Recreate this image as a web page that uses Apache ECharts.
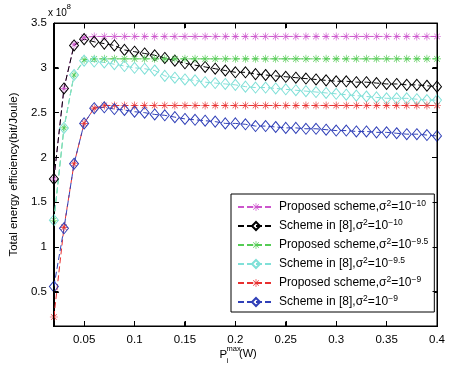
<!DOCTYPE html>
<html><head><meta charset="utf-8">
<script src="https://cdn.jsdelivr.net/npm/echarts@6/dist/echarts.min.js"></script>
<style>html,body{margin:0;padding:0;background:#fff}#wrap{position:relative;width:451px;height:368px}#c{width:451px;height:368px}#ov{position:absolute;left:0;top:0;pointer-events:none}</style>
</head><body><div id="wrap"><div id="c"></div><svg id="ov" width="451" height="368" xmlns="http://www.w3.org/2000/svg"></svg></div>
<script>
const xValues = [0.02,0.03,0.04,0.05,0.06,0.07,0.08,0.09,0.10,0.11,0.12,0.13,0.14,0.15,0.16,0.17,0.18,0.19,0.20,0.21,0.22,0.23,0.24,0.25,0.26,0.27,0.28,0.29,0.30,0.31,0.32,0.33,0.34,0.35,0.36,0.37,0.38,0.39,0.40];
const xTicks = [0.05,0.1,0.15,0.2,0.25,0.3,0.35,0.4];
const yTicks = [0.5,1,1.5,2,2.5,3,3.5];
// values in units of 1e8 bit/Joule
const proposed10 = [1.76,2.77,3.26,3.34,3.35,3.35,3.35,3.35,3.35,3.35,3.35,3.35,3.35,3.35,3.35,3.35,3.35,3.35,3.35,3.35,3.35,3.35,3.35,3.35,3.35,3.35,3.35,3.35,3.35,3.35,3.35,3.35,3.35,3.35,3.35,3.35,3.35,3.35,3.35];
const scheme8_10 = [1.76,2.77,3.25,3.32,3.29,3.27,3.25,3.20,3.18,3.16,3.14,3.11,3.08,3.05,3.03,3.01,2.99,2.97,2.95,2.95,2.93,2.92,2.91,2.90,2.89,2.88,2.87,2.86,2.85,2.85,2.84,2.84,2.83,2.82,2.82,2.81,2.81,2.80,2.79];
const proposed95 = [1.30,2.33,2.92,3.09,3.10,3.10,3.10,3.10,3.10,3.10,3.10,3.10,3.10,3.10,3.10,3.10,3.10,3.10,3.10,3.10,3.10,3.10,3.10,3.10,3.10,3.10,3.10,3.10,3.10,3.10,3.10,3.10,3.10,3.10,3.10,3.10,3.10,3.10,3.10];
const scheme8_95 = [1.30,2.33,2.92,3.08,3.07,3.06,3.04,3.02,3.00,2.99,2.97,2.91,2.89,2.87,2.86,2.84,2.83,2.82,2.81,2.79,2.78,2.78,2.77,2.76,2.75,2.74,2.73,2.72,2.71,2.70,2.69,2.68,2.67,2.66,2.66,2.66,2.65,2.64,2.64];
const proposed9 = [0.22,1.22,1.93,2.38,2.55,2.58,2.58,2.58,2.58,2.58,2.58,2.58,2.58,2.58,2.58,2.58,2.58,2.58,2.58,2.58,2.58,2.58,2.58,2.58,2.58,2.58,2.58,2.58,2.58,2.58,2.58,2.58,2.58,2.58,2.58,2.58,2.58,2.58,2.58];
const scheme8_9 = [0.56,1.21,1.93,2.38,2.55,2.56,2.54,2.53,2.51,2.50,2.48,2.47,2.45,2.43,2.42,2.41,2.40,2.38,2.38,2.37,2.35,2.35,2.34,2.33,2.33,2.32,2.32,2.31,2.30,2.30,2.29,2.29,2.28,2.28,2.27,2.26,2.26,2.25,2.24];

const seriesDefs = [
  {name:'p10', data:proposed10, color:'#cc55cc', star:true, label:'{t|Proposed scheme,σ}{s|2}{t|=10}{s|−10}'},
  {name:'s10', data:scheme8_10, color:'#000000', star:false, label:'{t|Scheme in [8],σ}{s|2}{t|=10}{s|−10}'},
  {name:'p95', data:proposed95, color:'#55cc55', star:true, label:'{t|Proposed scheme,σ}{s|2}{t|=10}{s|−9.5}'},
  {name:'s95', data:scheme8_95, color:'#80e0d8', star:false, label:'{t|Scheme in [8],σ}{s|2}{t|=10}{s|−9.5}'},
  {name:'p9', data:proposed9, color:'#e83030', star:true, label:'{t|Proposed scheme,σ}{s|2}{t|=10}{s|−9}'},
  {name:'s9', data:scheme8_9, color:'#3040b8', star:false, label:'{t|Scheme in [8],σ}{s|2}{t|=10}{s|−9}'}
];
const starPath = 'path://M9.2,0 L10.8,0 L10.8,20 L9.2,20 Z M0,9.2 L20,9.2 L20,10.8 L0,10.8 Z M2.4,3.5 L3.5,2.4 L17.6,16.5 L16.5,17.6 Z M16.5,2.4 L17.6,3.5 L3.5,17.6 L2.4,16.5 Z';
const labelMap = {};
seriesDefs.forEach(d => labelMap[d.name] = d.label);

const X_MIN = 0.02, X_MAX = 0.4, Y_MIN = 0.12, Y_MAX = 3.5;
const FONT = 'Liberation Sans, Arial, sans-serif';
const chart = echarts.init(document.getElementById('c'));
function tick(vals){ return {show:true, inside:true, length:5, customValues:vals, lineStyle:{color:'#000', width:1}}; }
function axLine(){ return {show:true, onZero:false, lineStyle:{color:'#000', width:1}}; }
try {
chart.setOption({
  backgroundColor:'#fff',
  animation:false,
  grid:{left:49, right:14, top:23, bottom:42, show:true, borderColor:'#000', borderWidth:1},
  xAxis:[
    {type:'value', min:X_MIN, max:X_MAX, position:'bottom', splitLine:{show:false}, axisLine:axLine(), axisTick:tick(xTicks),
      axisLabel:{customValues:xTicks, color:'#000', fontFamily:FONT, fontSize:11.5, margin:8}},
    {type:'value', min:X_MIN, max:X_MAX, position:'top', splitLine:{show:false}, axisLine:axLine(), axisTick:tick(xTicks), axisLabel:{show:false}}
  ],
  yAxis:[
    {type:'value', min:Y_MIN, max:Y_MAX, position:'left', splitLine:{show:false}, axisLine:axLine(), axisTick:tick(yTicks),
      name:'Total energy efficiency(bit/Joule)', nameLocation:'middle', nameGap:19,
      nameTextStyle:{color:'#000', fontFamily:FONT, fontSize:11.5},
      axisLabel:{customValues:yTicks, color:'#000', fontFamily:FONT, fontSize:11.5, margin:7}},
    {type:'value', min:Y_MIN, max:Y_MAX, position:'right', splitLine:{show:false}, axisLine:axLine(), axisTick:tick(yTicks), axisLabel:{show:false}}
  ],
  legend:{
    orient:'vertical', left:231, top:194, itemWidth:36, itemHeight:10, itemGap:5,
    padding:[5,6,4,6],
    backgroundColor:'#fff', borderColor:'#000', borderWidth:1, borderRadius:0,
    data:seriesDefs.map(d=>d.name),
    formatter:n=>labelMap[n],
    textStyle:{color:'#000', fontFamily:FONT, fontSize:12,
      rich:{t:{fontFamily:FONT, fontSize:12, color:'#000'},
            s:{fontFamily:FONT, fontSize:8.5, color:'#000', verticalAlign:'top', padding:[0,0,7,0]}}}
  },
  graphic:[
    {type:'text', left:48, top:8, style:{text:'x 10', font:'10px '+FONT, fill:'#000'}},
    {type:'text', left:66.5, top:3, style:{text:'8', font:'8px '+FONT, fill:'#000'}},
    {type:'text', left:219.5, top:348.5, style:{text:'P', font:'11.5px '+FONT, fill:'#000'}},
    {type:'text', left:226.5, top:345, style:{text:'max', font:'7.5px '+FONT, fill:'#000'}},
    {type:'text', left:226.5, top:357, style:{text:'i', font:'7.5px '+FONT, fill:'#000'}},
    {type:'text', left:239, top:348.5, style:{text:'(W)', font:'11px '+FONT, fill:'#000'}}
  ],
  series:seriesDefs.map(d=>({
    name:d.name, type:'line', xAxisIndex:0, yAxisIndex:0,
    data:xValues.map((x,i)=>[x,d.data[i]]),
    symbol:d.star?starPath:'diamond',
    symbolSize:d.star?8:[9,11],
    symbolKeepAspect:true,
    showAllSymbol:true,
    lineStyle:{color:d.color, width:1, type:[6,3]},
    itemStyle:d.star?{color:d.color, borderWidth:0}:{color:'rgba(255,255,255,0)', borderColor:d.color, borderWidth:1},
    emphasis:{disabled:true}
  }))
});
} catch (err) { console.error(err); }

// Box frame with inward ticks on all four sides, placed from the grid rect that ECharts computed
let rect = null;
try { rect = chart.getModel().getComponent('grid', 0).coordinateSystem.getRect(); } catch (e) {}
if (!rect || !isFinite(rect.x) || !isFinite(rect.width) || !isFinite(rect.height)) rect = {x:49, y:23, width:451-49-14, height:368-23-42};
const half = v => Math.round(v - 0.5) + 0.5;
const L = half(rect.x), T = half(rect.y), R = half(rect.x + rect.width), B = half(rect.y + rect.height);
const mapX = v => { let p = null; try { p = chart.convertToPixel({gridIndex:0}, [v, Y_MIN]); } catch (e) {}
  return (p && isFinite(p[0])) ? p[0] : rect.x + (v - X_MIN) / (X_MAX - X_MIN) * rect.width; };
const mapY = v => { let p = null; try { p = chart.convertToPixel({gridIndex:0}, [X_MIN, v]); } catch (e) {}
  return (p && isFinite(p[1])) ? p[1] : rect.y + rect.height - (v - Y_MIN) / (Y_MAX - Y_MIN) * rect.height; };
const NS = 'http://www.w3.org/2000/svg';
const ov = document.getElementById('ov');
function add(tag, attrs){ const el = document.createElementNS(NS, tag); for (const k in attrs) el.setAttribute(k, attrs[k]); ov.appendChild(el); }
add('rect', {x:L, y:T, width:R-L, height:B-T, fill:'none', stroke:'#000', 'stroke-width':1});
xTicks.forEach(v => { const px = half(mapX(v));
  add('line', {x1:px, y1:B, x2:px, y2:B-5, stroke:'#000', 'stroke-width':1});
  add('line', {x1:px, y1:T, x2:px, y2:T+5, stroke:'#000', 'stroke-width':1}); });
yTicks.forEach(v => { const py = half(mapY(v));
  add('line', {x1:L, y1:py, x2:L+5, y2:py, stroke:'#000', 'stroke-width':1});
  add('line', {x1:R, y1:py, x2:R-5, y2:py, stroke:'#000', 'stroke-width':1}); });
</script></body></html>
